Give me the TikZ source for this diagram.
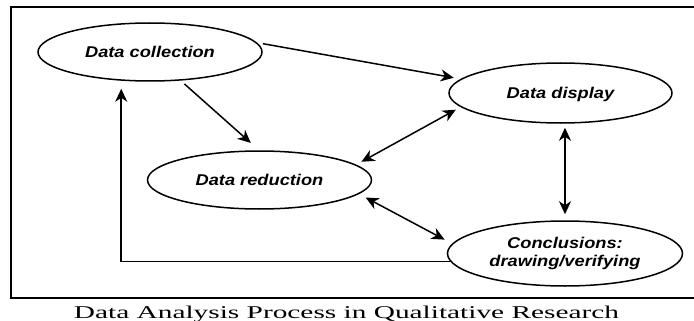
\documentclass[tikz,border=0pt]{standalone}
\usepackage{graphicx}
\usepackage{fontspec}
\setmainfont{Liberation Serif}
\newfontfamily\labelfont{Liberation Sans}
\usetikzlibrary{shapes.geometric,arrows.meta,calc}

% horizontally widened text
\newcommand{\widetxt}[2][1.17]{\scalebox{#1}[1]{#2}}

\begin{document}
\begin{tikzpicture}[x=1pt,y=-1pt,
  stage/.style={ellipse, draw, line width=1.5pt, inner sep=0pt,
    font=\labelfont\bfseries\itshape\fontsize{15.6}{18}\selectfont},
  oneline/.style={text height=11pt, text depth=0pt},
  link/.style={line width=1.5pt, -{Stealth[length=13pt,width=12pt,inset=4pt]}},
  twoway/.style={line width=1.5pt, {Stealth[length=13pt,width=12pt,inset=4pt]}-{Stealth[length=13pt,width=12pt,inset=4pt]}},
]
\useasboundingbox (0,0) rectangle (694,321);

% frame (open on the right)
\draw[line width=2pt] (694,7) -- (11,7) -- (11,298) -- (694,298);

% stages
\node[stage,oneline,minimum width=224pt,minimum height=58pt] (dc) at (150,52) {\widetxt{Data collection}};
\node[stage,oneline,minimum width=223pt,minimum height=60pt] (dd) at (560.5,93) {\widetxt{Data display}};
\node[stage,oneline,minimum width=224pt,minimum height=58pt] (dr) at (259.5,180) {\widetxt{Data reduction}};
\node[stage,align=center,minimum width=235pt,minimum height=65pt] (con) at (565,253.5)
  {\widetxt{Conclusions:}\\\widetxt{drawing/verifying}};

% connectors
\draw[link, shorten <=6pt, shorten >=7pt] (dc.5) -- (dd.172);
\draw[link, shorten <=5pt, shorten >=11pt] (dc.-43) -- (dr.91);
\draw[twoway, shorten <=6pt, shorten >=5.5pt] (dr.9) -- (dd.188);
\draw[twoway, shorten <=7.5pt, shorten >=8.5pt] (dr.-8.5) -- (con.175);
\draw[twoway, shorten <=4pt, shorten >=6pt] (dd.south -| con.north) -- (con.north);
\draw[link, shorten >=8pt] (con.184) -| (dc.-135);

% caption
\node[anchor=base] (cap) at (346.5,318.5)
  {\fontsize{18}{21}\selectfont\widetxt[1.63]{Data Analysis Process in Qualitative Research}};
\end{tikzpicture}
\end{document}
